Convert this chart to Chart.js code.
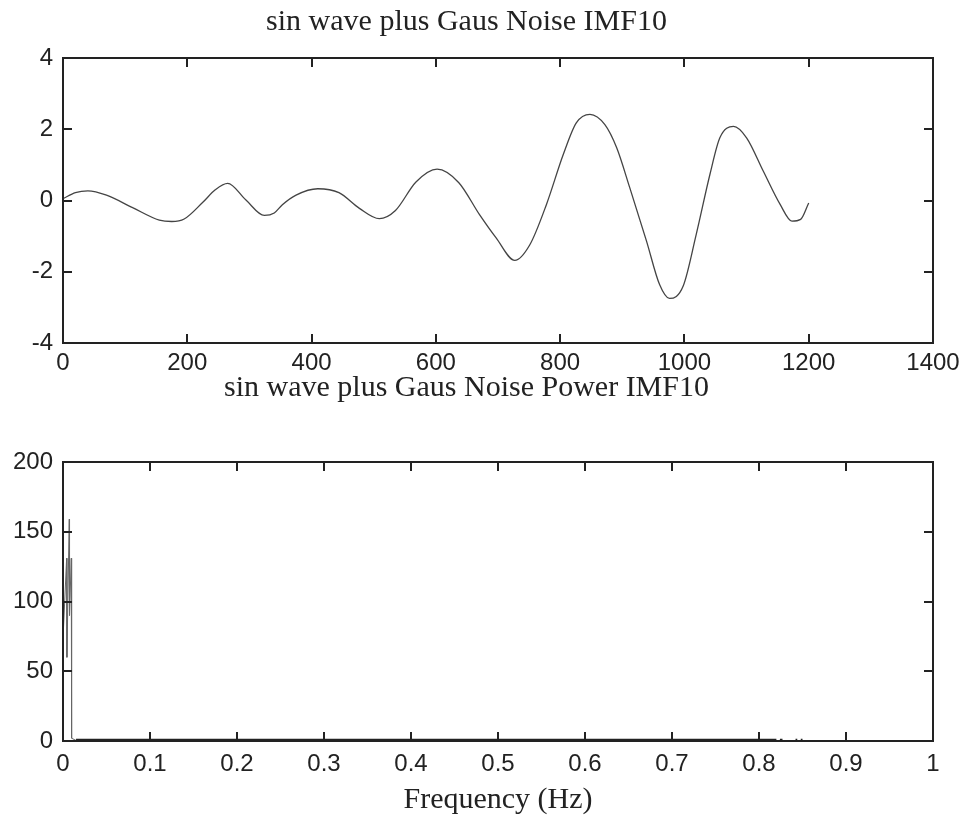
<!DOCTYPE html>
<html>
<head>
<meta charset="utf-8">
<script src="https://cdn.jsdelivr.net/npm/chart.js@4.4.1/dist/chart.umd.min.js"></script>
<style>
  body { margin: 0; background: #fff; }
  #wrap { position: relative; width: 963px; height: 823px; }
  canvas { position: absolute; left: 0; }
  #imfChart { top: 0; }
  #powerChart { top: 365px; }
</style>
</head>
<body>
<div id="wrap">
  <canvas id="imfChart" width="963" height="380"></canvas>
  <canvas id="powerChart" width="963" height="458"></canvas>
</div>
<script>
// IMF10 samples
const sampleIdx = [0, 20, 40, 70, 112, 155, 175, 195, 225, 245, 265, 294, 324, 340, 353, 375,
  410, 444, 477, 509, 535, 568, 602, 637, 670, 697, 727, 751, 778, 805, 826, 848, 872, 891,
  912, 939, 960, 976, 998, 1019, 1041, 1057, 1079, 1100, 1127, 1154, 1173, 1187, 1200];
const imfValues = [0.05, 0.22, 0.27, 0.15, -0.2, -0.55, -0.59, -0.52, -0.05, 0.3, 0.48, 0.02, -0.42, -0.35, -0.12, 0.15,
  0.33, 0.22, -0.22, -0.51, -0.28, 0.52, 0.88, 0.5, -0.39, -1.05, -1.68, -1.25, -0.11, 1.29, 2.18, 2.42, 2.13, 1.48,
  0.36, -1.14, -2.36, -2.75, -2.4, -0.95, 0.73, 1.76, 2.08, 1.76, 0.82, -0.11, -0.58, -0.53, -0.07];

// power spectrum: the spike near 0 Hz
const spikeFreq = [0, 0.0005, 0.0042, 0.0045, 0.0072, 0.0075, 0.0095, 0.0099, 0.015];
const spikePower = [29, 80, 131, 60, 159, 90, 131, 2, 0.4];

// the low floor that runs along the axis (gaps = null)
const floorFreq = [0.015, 0.1, 0.3, 0.5, 0.7, 0.82, 0.823, 0.824, 0.827, 0.8275, 0.842, 0.844, 0.8445, 0.848, 0.85];
const floorPower = [0.5, 0.5, 0.5, 0.5, 0.5, 0.5, null, 0.5, 0.5, null, 0.5, 0.5, null, 0.5, 0.5];

const imfTicksX = { min: 0, max: 1400, step: 200 };
const imfTicksY = { min: -4, max: 4, step: 2 };
const powTicksX = { min: 0, max: 1, step: 0.1 };
const powTicksY = { min: 0, max: 200, step: 50 };

const toPoints = (xs, ys) => xs.map((x, i) => ({ x: x, y: ys[i] }));

const tickFont = { family: '"Liberation Sans", Arial, sans-serif', size: 24 };
const titleFont = { family: '"Liberation Serif", "Times New Roman", serif', size: 30, weight: 'normal' };

// matlab style box with ticks pointing inwards on all four sides
const boxFrame = {
  id: 'boxFrame',
  afterDraw(chart, args, opts) {
    const { ctx, chartArea: a, scales: { x, y } } = chart;
    const len = opts.tickLength || 9;
    ctx.save();
    ctx.strokeStyle = '#222';
    ctx.lineWidth = 2;
    ctx.strokeRect(a.left, a.top, a.right - a.left, a.bottom - a.top);
    ctx.beginPath();
    x.ticks.forEach(t => {
      const px = Math.round(x.getPixelForValue(t.value));
      ctx.moveTo(px, a.bottom); ctx.lineTo(px, a.bottom - len);
      ctx.moveTo(px, a.top); ctx.lineTo(px, a.top + len);
    });
    y.ticks.forEach(t => {
      const py = Math.round(y.getPixelForValue(t.value));
      ctx.moveTo(a.left, py); ctx.lineTo(a.left + len, py);
      ctx.moveTo(a.right, py); ctx.lineTo(a.right - len, py);
    });
    ctx.stroke();
    ctx.restore();
  }
};

function axis(range, extra) {
  return Object.assign({
    type: 'linear',
    min: range.min,
    max: range.max,
    grid: { display: false, drawTicks: false },
    border: { display: false },
    ticks: {
      stepSize: range.step, font: tickFont, color: '#222', maxRotation: 0, autoSkip: false,
      callback: v => String(+v.toFixed(2))   // plain 1400 / 0.1 / 1, like matlab
    }
  }, extra);
}

function makeOptions(title, titlePad, xRange, yRange, xHeight, xPad, xTitle) {
  const x = axis(xRange, {
    afterFit: s => {
      s.height = xHeight;
      // keep the plot box fixed, labels may hang over the edges
      s.paddingLeft = 0;
      s.paddingRight = 0;
    }
  });
  x.ticks.padding = xPad;
  if (xTitle) {
    x.title = { display: true, text: xTitle, font: titleFont, color: '#222', padding: { top: 0, bottom: 5 } };
  }
  const y = axis(yRange, {
    afterFit: s => { s.width = 63; }
  });
  y.ticks.padding = 10;
  return {
    responsive: false,
    animation: false,
    layout: { padding: { left: 0, right: 30, top: 0, bottom: 0 } },
    plugins: {
      legend: { display: false },
      tooltip: { enabled: false },
      title: { display: true, text: title, font: titleFont, color: '#222', padding: titlePad },
      boxFrame: { tickLength: 9 }
    },
    scales: { x: x, y: y }
  };
}

new Chart(document.getElementById('imfChart'), {
  type: 'line',
  data: {
    datasets: [{
      data: toPoints(sampleIdx, imfValues),
      borderColor: '#444',
      borderWidth: 1.3,
      pointRadius: 0,
      cubicInterpolationMode: 'monotone'
    }]
  },
  options: makeOptions('sin wave plus Gaus Noise IMF10', { top: 4, bottom: 18 },
    imfTicksX, imfTicksY, 37, 6, null),
  plugins: [boxFrame]
});

new Chart(document.getElementById('powerChart'), {
  type: 'line',
  data: {
    datasets: [{
      data: toPoints(spikeFreq, spikePower),
      borderColor: '#666',
      borderWidth: 1,
      pointRadius: 0,
      tension: 0
    }, {
      data: toPoints(floorFreq, floorPower),
      borderColor: '#222',
      borderWidth: 3,
      pointRadius: 0,
      tension: 0,
      spanGaps: false
    }]
  },
  options: makeOptions('sin wave plus Gaus Noise Power IMF10', { top: 5, bottom: 56 },
    powTicksX, powTicksY, 82, 9, 'Frequency (Hz)'),
  plugins: [boxFrame]
});
</script>
</body>
</html>
